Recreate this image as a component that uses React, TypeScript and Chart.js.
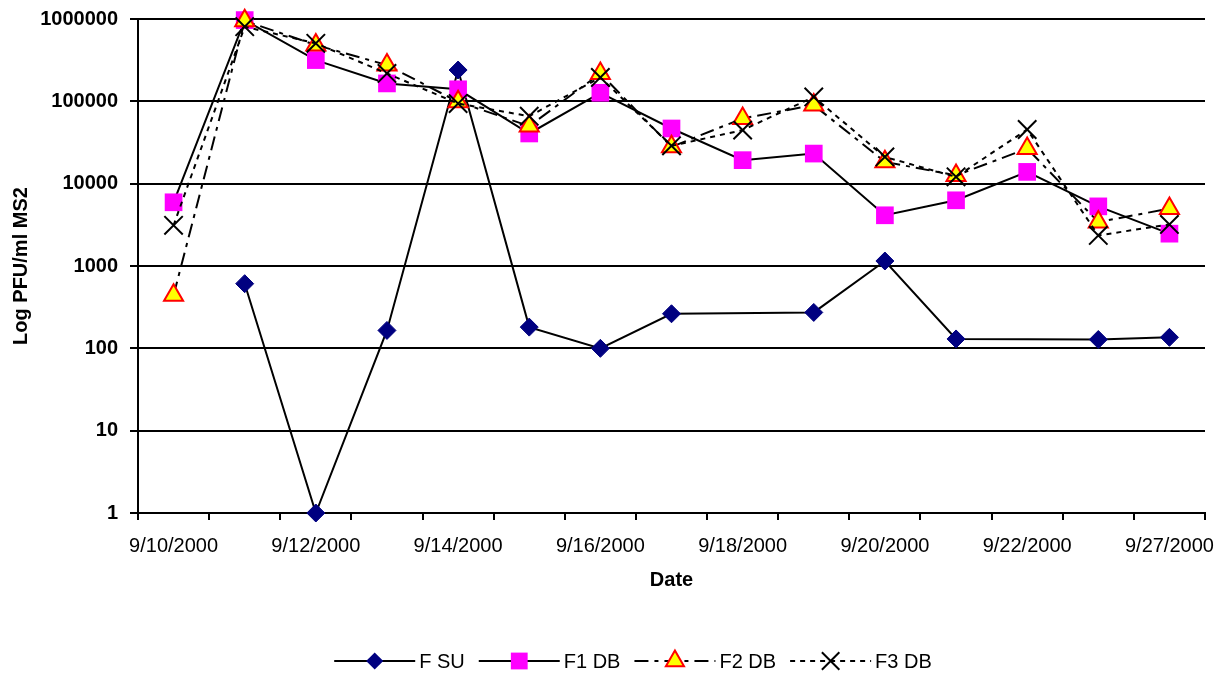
import React, { useEffect, useRef } from 'react';
import { Chart, registerables } from 'chart.js';

Chart.register(...registerables);

// ---- data ----
const dates = [
  '9/10/2000', '9/11/2000', '9/12/2000', '9/13/2000', '9/14/2000',
  '9/15/2000', '9/16/2000', '9/17/2000', '9/18/2000', '9/19/2000',
  '9/20/2000', '9/21/2000', '9/22/2000', '9/25/2000', '9/27/2000',
];
const seriesNames = ['F SU', 'F1 DB', 'F2 DB', 'F3 DB'];
const fSU = [null, 610, 1, 165, 240000, 181, 100, 263, null, 273, 1150, 130, null, 128, 136];
const f1DB = [5940, 970000, 317000, 165000, 140000, 40700, 127000, 46800, 19300, 23200, 4130, 6280, 13900, 5300, 2470];
const f2DB = [440, 950000, 483000, 276000, 98600, 50000, 218000, 28000, 62000, 90000, 18400, 12600, 26700, 3420, 4980];
const f3DB = [3120, 806000, 506000, 218000, 94000, 66000, 195000, 28800, 44700, 113000, 21100, 12100, 45500, 2350, 3200];
const yTickValues = [1, 10, 100, 1000, 10000, 100000, 1000000];
const yTitle = 'Log PFU/ml MS2';
const xTitle = 'Date';

const FONT = 'Arial, "Liberation Sans", sans-serif';

function drawMarker(ctx: CanvasRenderingContext2D, ds: any, x: number, y: number, scale: number) {
  const r = ds.pointRadius * scale;
  ctx.save();
  ctx.setLineDash([]);
  ctx.fillStyle = ds.pointBackgroundColor;
  ctx.strokeStyle = ds.pointBorderColor;
  ctx.lineWidth = ds.pointBorderWidth;
  ctx.beginPath();
  if (ds.pointStyle === 'rectRot') {
    ctx.moveTo(x, y - r);
    ctx.lineTo(x + r, y);
    ctx.lineTo(x, y + r);
    ctx.lineTo(x - r, y);
    ctx.closePath();
    ctx.fill();
  } else if (ds.pointStyle === 'rect') {
    const h = r * Math.SQRT1_2;
    ctx.rect(x - h, y - h, 2 * h, 2 * h);
    ctx.fill();
  } else if (ds.pointStyle === 'triangle') {
    ctx.moveTo(x, y - r);
    ctx.lineTo(x + r * Math.sin(Math.PI * 2 / 3), y + r / 2);
    ctx.lineTo(x - r * Math.sin(Math.PI * 2 / 3), y + r / 2);
    ctx.closePath();
    ctx.fill();
    ctx.stroke();
  } else if (ds.pointStyle === 'crossRot') {
    const h = r * Math.SQRT1_2;
    ctx.moveTo(x - h, y - h);
    ctx.lineTo(x + h, y + h);
    ctx.moveTo(x - h, y + h);
    ctx.lineTo(x + h, y - h);
    ctx.stroke();
  }
  ctx.restore();
}

const excelLegend = {
  id: 'excelLegend',
  afterDraw(chart: any, _args: any, opts: any) {
    const ctx: CanvasRenderingContext2D = chart.ctx;
    const datasets = chart.data.datasets;
    ctx.save();
    ctx.font = `${opts.fontSize}px ${FONT}`;
    const lineLen = opts.lineLen;
    const widths = datasets.map((d: any) => ctx.measureText(d.label).width);
    let total = 0;
    widths.forEach((w: number) => { total += lineLen + opts.textGap + w; });
    total += opts.itemGap * (datasets.length - 1);
    let x = opts.centerX - total / 2;
    const y = opts.y;
    datasets.forEach((d: any, i: number) => {
      ctx.save();
      ctx.strokeStyle = d.borderColor;
      ctx.lineWidth = d.borderWidth;
      ctx.setLineDash(d.borderDash || []);
      ctx.beginPath();
      ctx.moveTo(x, y);
      ctx.lineTo(x + lineLen, y);
      ctx.stroke();
      ctx.restore();
      drawMarker(ctx, d, x + lineLen / 2, y, 0.95);
      ctx.fillStyle = '#000';
      ctx.textAlign = 'left';
      ctx.textBaseline = 'middle';
      ctx.fillText(d.label, x + lineLen + opts.textGap, y + 1);
      x += lineLen + opts.textGap + widths[i] + opts.itemGap;
    });
    ctx.restore();
  },
};

export default function App() {
  const canvasRef = useRef<HTMLCanvasElement | null>(null);

  useEffect(() => {
    if (!canvasRef.current) return;
    Chart.defaults.color = '#000';
    const chart = new Chart(canvasRef.current, {
      type: 'line',
      data: {
        labels: dates,
        datasets: [
          {
            label: seriesNames[0],
            data: fSU,
            borderColor: '#000',
            borderWidth: 2,
            pointStyle: 'rectRot',
            pointRadius: 9,
            pointBackgroundColor: '#000080',
            pointBorderColor: '#000080',
            pointBorderWidth: 1,
            spanGaps: true,
            tension: 0,
            clip: false,
            order: 3,
          },
          {
            label: seriesNames[1],
            data: f1DB,
            borderColor: '#000',
            borderWidth: 2,
            pointStyle: 'rect',
            pointRadius: 12.5,
            pointBackgroundColor: '#FF00FF',
            pointBorderColor: '#FF00FF',
            pointBorderWidth: 0,
            tension: 0,
            clip: false,
            order: 2,
          },
          {
            label: seriesNames[2],
            data: f2DB,
            borderColor: '#000',
            borderWidth: 2,
            borderDash: [14, 6, 4, 6],
            pointStyle: 'triangle',
            pointRadius: 11,
            pointBackgroundColor: '#FFFF00',
            pointBorderColor: '#FF0000',
            pointBorderWidth: 2,
            tension: 0,
            clip: false,
            order: 1,
          },
          {
            label: seriesNames[3],
            data: f3DB,
            borderColor: '#000',
            borderWidth: 2,
            borderDash: [5, 5],
            pointStyle: 'crossRot',
            pointRadius: 13,
            pointBackgroundColor: '#000',
            pointBorderColor: '#000',
            pointBorderWidth: 2,
            tension: 0,
            clip: false,
            order: 0,
          },
        ] as any,
      },
      options: {
        animation: false,
        responsive: true,
        maintainAspectRatio: false,
        devicePixelRatio: 1,
        layout: { padding: { top: 19, right: 16, bottom: 75, left: 0 } },
        plugins: {
          legend: { display: false },
          tooltip: { enabled: false },
          excelLegend: { centerX: 633, y: 661, fontSize: 20, lineLen: 81, textGap: 4, itemGap: 14 },
        } as any,
        scales: {
          x: {
            type: 'category',
            offset: true,
            afterFit: (s: any) => {
              s.height = 87;
              s.paddingLeft = 0;
              s.paddingRight = 0;
            },
            grid: {
              display: true,
              drawOnChartArea: false,
              drawTicks: true,
              tickLength: 7,
              offset: true,
              color: '#000',
              lineWidth: 2,
            },
            border: { display: true, color: '#000', width: 2 },
            ticks: {
              autoSkip: false,
              maxRotation: 0,
              minRotation: 0,
              padding: 14,
              color: '#000',
              font: { family: FONT, size: 20 },
              callback: (_v: any, i: number) => (i % 2 === 0 ? dates[i] : ''),
            },
            title: {
              display: true,
              text: xTitle,
              color: '#000',
              font: { family: FONT, size: 20, weight: 'bold' },
              padding: { top: 0, bottom: 8 },
            },
          },
          y: {
            type: 'logarithmic',
            min: 1,
            max: 1000000,
            afterFit: (s: any) => {
              s.width = 138;
              s.paddingTop = 0;
              s.paddingBottom = 0;
            },
            afterBuildTicks: (s: any) => { s.ticks = yTickValues.map((v) => ({ value: v })); },
            grid: {
              display: true,
              drawOnChartArea: true,
              drawTicks: true,
              tickLength: 8,
              color: '#000',
              lineWidth: 2,
            },
            border: { display: true, color: '#000', width: 2 },
            ticks: {
              padding: 12,
              color: '#000',
              font: { family: FONT, size: 20, weight: 'bold' },
              callback: (v: any) => String(v),
            },
            title: {
              display: true,
              text: yTitle,
              color: '#000',
              font: { family: FONT, size: 20, weight: 'bold' },
              padding: { top: 9, bottom: 0 },
            },
          },
        },
      } as any,
      plugins: [excelLegend],
    });
    return () => chart.destroy();
  }, []);

  return (
    <div style={{ position: 'fixed', left: 0, top: 0, width: 1221, height: 675, background: '#fff' }}>
      <canvas ref={canvasRef} />
    </div>
  );
}
